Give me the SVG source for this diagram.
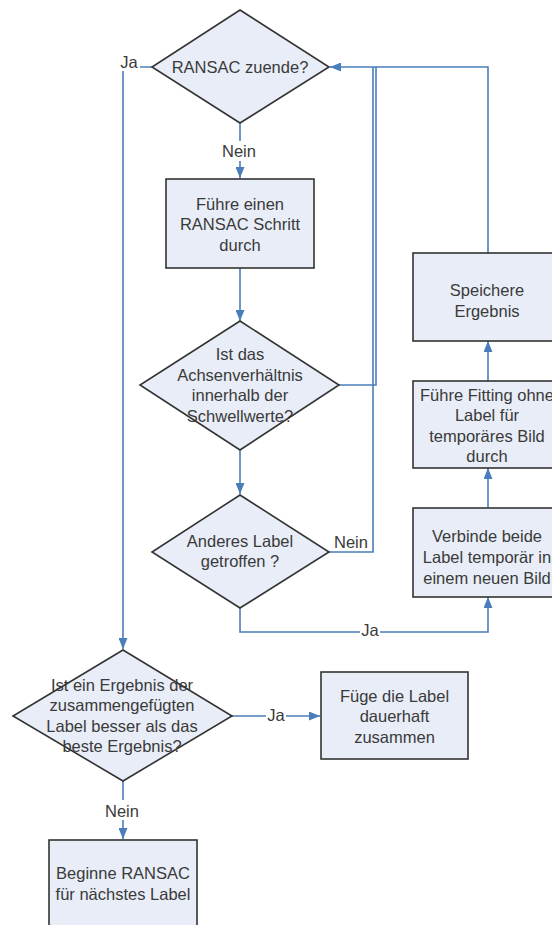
<svg xmlns="http://www.w3.org/2000/svg" width="552" height="925" viewBox="0 0 552 925">
<style>
.shape{fill:#e8edf7;stroke:#333;stroke-width:1.6}
.t{font-family:"Liberation Sans",Arial,sans-serif;font-size:16.5px;fill:#3a3a3a;text-anchor:middle}
.c{fill:none;stroke:#4a7ebb;stroke-width:1.6}
.bg{fill:#fff}
</style>
<defs>
<marker id="ah" markerUnits="userSpaceOnUse" markerWidth="11" markerHeight="9" refX="11" refY="4.5" orient="auto">
<path d="M0,0 L11,4.5 L0,9 z" fill="#4a7ebb"/>
</marker>
</defs>
<rect width="552" height="925" fill="#fff"/>
<g id="connectors">
<path class="c" d="M240,123 V178" marker-end="url(#ah)"/>
<path class="c" d="M240,268 V321" marker-end="url(#ah)"/>
<path class="c" d="M240,450 V494" marker-end="url(#ah)"/>
<path class="c" d="M339,385 H376 V67"/>
<path class="c" d="M329,552 H373 V67"/>
<path class="c" d="M488,253 V67 H330" marker-end="url(#ah)"/>
<path class="c" d="M240,608 V632 H488 V597" marker-end="url(#ah)"/>
<path class="c" d="M488,507 V468" marker-end="url(#ah)"/>
<path class="c" d="M488,381 V341" marker-end="url(#ah)"/>
<path class="c" d="M152,67 H123 V649" marker-end="url(#ah)"/>
<path class="c" d="M232,716 H320" marker-end="url(#ah)"/>
<path class="c" d="M123,781 V839" marker-end="url(#ah)"/>
<rect class="bg" x="221" y="141" width="38" height="20"/>
<text class="t" x="239" y="157">Nein</text>
<rect class="bg" x="118" y="53" width="22" height="18"/>
<text class="t" x="129" y="67.5">Ja</text>
<text class="t" x="351" y="548">Nein</text>
<rect class="bg" x="360" y="621" width="20" height="18"/>
<text class="t" x="370" y="636">Ja</text>
<rect class="bg" x="266" y="706" width="20" height="18"/>
<text class="t" x="276" y="721">Ja</text>
<rect class="bg" x="104" y="800" width="37" height="20"/>
<text class="t" x="122" y="817">Nein</text>
</g>
<g id="ransac-zuende">
<polygon class="shape" points="240,10 329,67 240,123 152,67"/>
<text class="t" x="240" y="73">RANSAC zuende?</text>
</g>
<g id="ransac-schritt">
<rect class="shape" x="166" y="179" width="148" height="89"/>
<text class="t" x="240" y="209.5">Führe einen</text>
<text class="t" x="240" y="230">RANSAC Schritt</text>
<text class="t" x="240" y="250.5">durch</text>
</g>
<g id="achsenverhaeltnis">
<polygon class="shape" points="240,321 339,385 240,450 140,385"/>
<text class="t" x="240" y="360">Ist das</text>
<text class="t" x="240" y="380.5">Achsenverhältnis</text>
<text class="t" x="240" y="401">innerhalb der</text>
<text class="t" x="240" y="421.5">Schwellwerte?</text>
</g>
<g id="anderes-label">
<polygon class="shape" points="240,495 329,552 240,608 152,552"/>
<text class="t" x="240" y="546.5">Anderes Label</text>
<text class="t" x="240" y="566.5">getroffen ?</text>
</g>
<g id="speichere">
<rect class="shape" x="413" y="253" width="150" height="88"/>
<text class="t" x="487" y="296">Speichere</text>
<text class="t" x="487" y="316.5">Ergebnis</text>
</g>
<g id="fitting">
<rect class="shape" x="413" y="381" width="150" height="87"/>
<text class="t" x="487" y="400.5">Führe Fitting ohne</text>
<text class="t" x="487" y="421">Label für</text>
<text class="t" x="487" y="441.5">temporäres Bild</text>
<text class="t" x="487" y="462">durch</text>
</g>
<g id="verbinde">
<rect class="shape" x="413" y="508" width="150" height="89"/>
<text class="t" x="487" y="542">Verbinde beide</text>
<text class="t" x="487" y="563">Label temporär in</text>
<text class="t" x="487" y="584">einem neuen Bild</text>
</g>
<g id="ergebnis-besser">
<polygon class="shape" points="123,650 232,716 123,781 13,716"/>
<text class="t" x="122" y="690.5">Ist ein Ergebnis der</text>
<text class="t" x="122" y="711">zusammengefügten</text>
<text class="t" x="122" y="731.5">Label besser als das</text>
<text class="t" x="122" y="752">beste Ergebnis?</text>
</g>
<g id="fuege-zusammen">
<rect class="shape" x="321" y="672" width="147" height="87"/>
<text class="t" x="394.5" y="701.5">Füge die Label</text>
<text class="t" x="394.5" y="722">dauerhaft</text>
<text class="t" x="394.5" y="742.5">zusammen</text>
</g>
<g id="beginne-ransac">
<rect class="shape" x="49" y="840" width="148" height="90"/>
<text class="t" x="123" y="879">Beginne RANSAC</text>
<text class="t" x="123" y="899.5">für nächstes Label</text>
</g>
</svg>
